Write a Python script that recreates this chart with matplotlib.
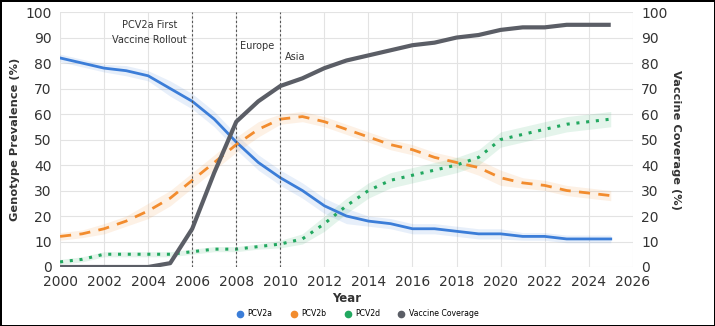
import matplotlib.pyplot as plt
import numpy as np

years = list(range(2000, 2026))

pcv2a = [82, 80, 78, 77, 75, 70, 65, 58, 49, 41, 35, 30, 24, 20, 18, 17,
         15, 15, 14, 13, 13, 12, 12, 11, 11, 11]
pcv2b = [12, 13, 15, 18, 22, 27, 34, 41, 48, 54, 58, 59, 57, 54, 51, 48,
         46, 43, 41, 39, 35, 33, 32, 30, 29, 28]
pcv2d = [2, 3, 5, 5, 5, 5, 6, 7, 7, 8, 9, 11, 17, 24, 30, 34,
         36, 38, 40, 43, 50, 52, 54, 56, 57, 58]
coverage = [0, 0, 0, 0, 0, 1.5, 15, 37, 57, 65, 71, 74, 78, 81, 83, 85,
            87, 88, 90, 91, 93, 94, 94, 95, 95, 95]

# half width of the shaded bands
band_a = [1.5, 1.5, 1.5, 2, 2, 3, 3, 3, 3, 3, 3, 3, 3, 3, 2, 2,
          2, 2, 2, 2, 2, 1.5, 1.5, 1.5, 1.5, 1.5]
band_b = [1.5, 1.5, 2, 2, 3, 3, 3, 3, 3, 3, 2, 2, 2, 2, 2, 2,
          2, 2, 2, 3, 3, 2, 2, 2, 2, 2]
band_d = [1, 1, 1, 1, 1, 1, 1, 1, 1, 1, 1.5, 2, 3, 3, 3, 3,
          3, 3, 3, 3, 3, 3, 3, 3, 3, 3]

events = [2006, 2008, 2010]
event_labels = ["PCV2a First\nVaccine Rollout", "Europe", "Asia"]

c_a = "#3b7dd8"
c_b = "#f28c2e"
c_d = "#22a860"
c_v = "#5b5e66"
txt = "#333333"

fig = plt.figure(figsize=(7.15, 3.26), dpi=100)
fig.patch.set_edgecolor("black")
fig.patch.set_linewidth(2)
ax = fig.add_axes([0.084, 0.181, 0.801, 0.782])
ax2 = ax.twinx()

x = np.array(years)
for vals, band, col in [(pcv2a, band_a, c_a), (pcv2b, band_b, c_b), (pcv2d, band_d, c_d)]:
    v = np.array(vals)
    b = np.array(band)
    ax.fill_between(x, v - b, v + b, color=col, alpha=0.12, lw=0)

ax.plot(x, pcv2a, color=c_a, lw=2, label="PCV2a")
ax.plot(x, pcv2b, color=c_b, lw=2, ls=(0, (4, 3)), label="PCV2b")
ax.plot(x, pcv2d, color=c_d, lw=2.2, ls=(0, (1, 2.2)), label="PCV2d")
ax2.plot(x, coverage, color=c_v, lw=3, solid_capstyle="butt", label="Vaccine Coverage")

for yr in events:
    ax.axvline(yr, color="#555555", lw=0.8, ls=(0, (2, 2)))
ax.text(2005.75, 97, event_labels[0], ha="right", va="top", fontsize=7,
        color=txt, linespacing=1.6, multialignment="center")
ax.text(2008.15, 86.5, event_labels[1], ha="left", va="center", fontsize=7, color=txt)
ax.text(2010.2, 82.3, event_labels[2], ha="left", va="center", fontsize=7, color=txt)

for a in (ax, ax2):
    a.set_ylim(0, 100)
    a.set_yticks(range(0, 101, 10))
    a.tick_params(length=0, labelsize=10, colors=txt, pad=6)
    for s in a.spines.values():
        s.set_visible(False)
ax.set_xlim(2000, 2026)
ax.set_xticks(range(2000, 2027, 2))
ax.grid(True, color="#e3e3e3", lw=0.8)
ax.set_axisbelow(True)

ax.set_xlabel("Year", fontsize=8.5, fontweight="bold", color=txt, labelpad=2)
ax.set_ylabel("Genotype Prevalence (%)", fontsize=8.2, fontweight="bold", color=txt,
              labelpad=4)
ax2.set_ylabel("Vaccine Coverage (%)", fontsize=8.2, fontweight="bold", color=txt,
               rotation=270, labelpad=10)

handles = []
for col, lab in [(c_a, "PCV2a"), (c_b, "PCV2b"), (c_d, "PCV2d"), (c_v, "Vaccine Coverage")]:
    handles.append(plt.Line2D([], [], marker="o", ls="", color=col, markersize=4.5, label=lab))
fig.legend(handles=handles, loc="center", bbox_to_anchor=(0.5, 0.037), ncol=4,
           frameon=False, fontsize=5.6, handlelength=1, handletextpad=0.5,
           columnspacing=2.2)

fig.savefig("out.png", dpi=100)
